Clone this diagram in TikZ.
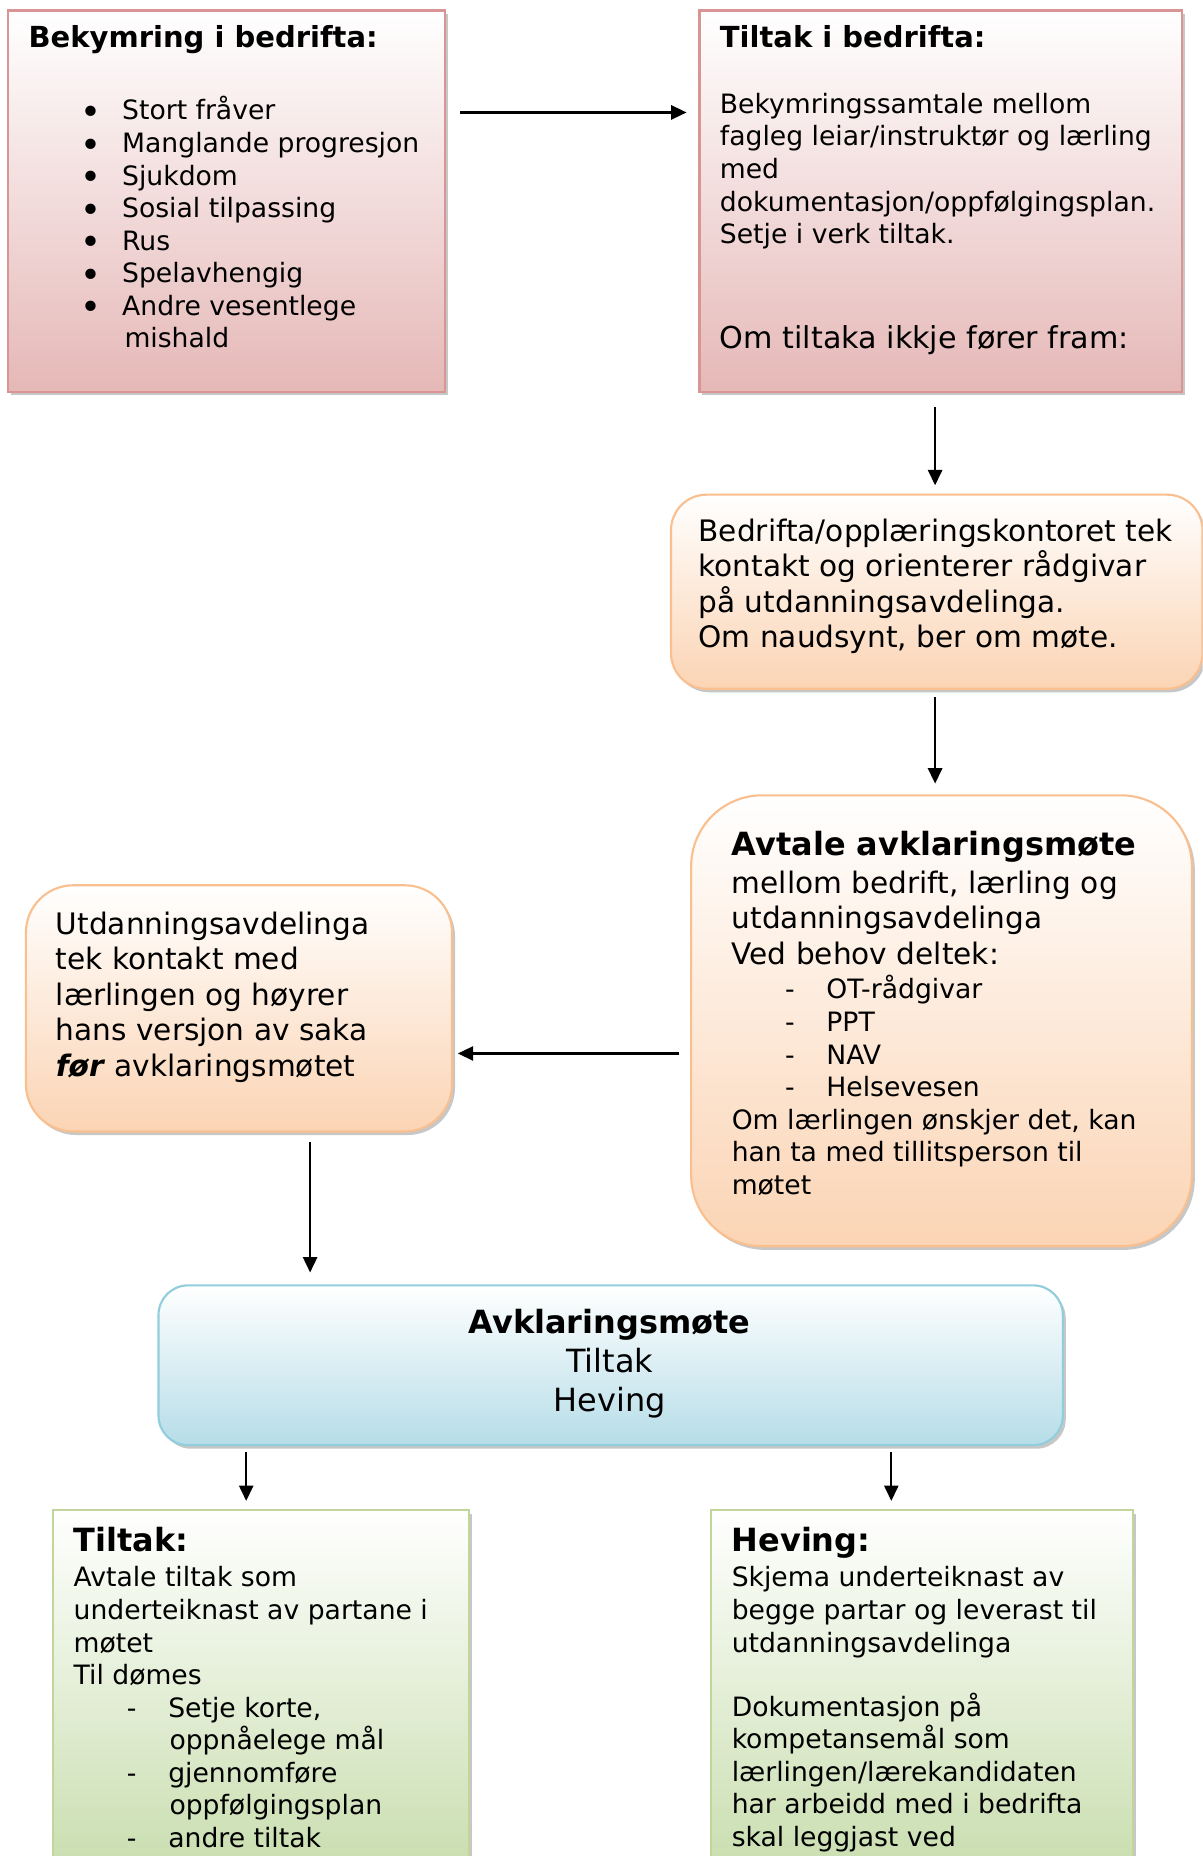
\documentclass[tikz,border=0pt]{standalone}
\usepackage{fontspec}
\setmainfont{DejaVu Sans}
\usetikzlibrary{arrows.meta,shadows}

\definecolor{pinkline}{HTML}{D99594}
\definecolor{pinkfill}{HTML}{E5B8B7}
\definecolor{orangeline}{HTML}{FABF8F}
\definecolor{orangefill}{HTML}{FBD4B4}
\definecolor{blueline}{HTML}{92CDDC}
\definecolor{bluefill}{HTML}{B6DDE8}
\definecolor{greenline}{HTML}{C2D69B}
\definecolor{greenfill}{HTML}{C4DBA8}

\newcommand{\smalltxt}{\fontsize{22.5}{27.5}\selectfont}
\newcommand{\midtxt}{\fontsize{25}{30}\selectfont}
\newcommand{\bigtxt}{\fontsize{27}{33}\selectfont}
\newcommand{\dotitem}{\hspace*{44pt}\makebox[35pt][l]{\raisebox{-4pt}{\fontsize{30}{27.5}\selectfont •}}}

\begin{document}
\begin{tikzpicture}[x=1pt,y=-1pt,
	box/.style={draw, line width=1.8pt, anchor=north west, inner sep=0pt,
		drop shadow={shadow xshift=2.5pt,shadow yshift=-3pt,fill=black,opacity=0.22}},
	pinkbox/.style={box, draw=pinkline, top color=white, bottom color=pinkfill},
	orangebox/.style={box, draw=orangeline, top color=white, bottom color=orangefill},
	bluebox/.style={box, draw=blueline, top color=white, bottom color=bluefill},
	greenbox/.style={box, draw=greenline, top color=white, bottom color=greenfill},
	txt/.style={anchor=north west, align=left, inner sep=0pt, font=\smalltxt},
	arr/.style={-{Triangle[length=13pt,width=12pt]}, line width=1.8pt}]
	\useasboundingbox (0,0) rectangle (1016,1568);
	\clip (0,0) rectangle (1016,1568);

	% boxes
	\node[pinkbox, minimum width=369pt, minimum height=322pt] (b1) at (6,8) {};
	\node[pinkbox, minimum width=408pt, minimum height=322pt] (b2) at (590,8) {};
	\node[orangebox, rounded corners=30pt, minimum width=449pt, minimum height=164pt] (b3) at (566,417) {};
	\node[orangebox, rounded corners=60pt, minimum width=423pt, minimum height=381pt] (b4) at (583,671) {};
	\node[orangebox, rounded corners=40pt, minimum width=360pt, minimum height=208pt] (b5) at (21,747) {};
	\node[bluebox, rounded corners=25pt, minimum width=764pt, minimum height=135pt] (b6) at (133,1085) {};
	\node[greenbox, minimum width=351pt, minimum height=330pt] (b7) at (44,1275) {};
	\node[greenbox, minimum width=356pt, minimum height=330pt] (b8) at (600,1275) {};

	% texts
	\node[txt] (t1) at (24,21) {{\fontsize{24.5}{27.5}\selectfont\bfseries Bekymring i bedrifta:}\\[34pt]
		\dotitem Stort fråver\\
		\dotitem Manglande progresjon\\
		\dotitem Sjukdom\\
		\dotitem Sosial tilpassing\\
		\dotitem Rus\\
		\dotitem Spelavhengig\\
		\dotitem Andre vesentlege\\
		\hspace*{81pt}mishald};
	\node[txt] (t2) at (608,21) {{\fontsize{24.5}{27.5}\selectfont\bfseries Tiltak i bedrifta:}\\[28.5pt]
		Bekymringssamtale mellom\\
		fagleg leiar/instruktør og lærling\\
		med\\
		dokumentasjon/oppfølgingsplan.\\
		Setje i verk tiltak.\\[61.5pt]
		{\fontsize{25.5}{30}\selectfont Om tiltaka ikkje fører fram:}};
	\node[txt, font=\midtxt] (t3) at (590,438) {Bedrifta/opplæringskontoret tek\\
		kontakt og orienterer rådgivar\\
		på utdanningsavdelinga.\\
		Om naudsynt, ber om møte.};
	\node[txt, font=\midtxt] (t4) at (618,702) {{\bigtxt\bfseries Avtale avklaringsmøte}\\[2pt]
		mellom bedrift, lærling og\\
		utdanningsavdelinga\\
		Ved behov deltek:};
	\node[txt] (t4b) at (618,824) {\hspace*{45pt}\makebox[35pt][l]{-}OT-rådgivar\\
		\hspace*{45pt}\makebox[35pt][l]{-}PPT\\
		\hspace*{45pt}\makebox[35pt][l]{-}NAV\\
		\hspace*{45pt}\makebox[35pt][l]{-}Helsevesen\\
		Om lærlingen ønskjer det, kan\\
		han ta med tillitsperson til\\
		møtet};
	\node[txt, font=\midtxt] (t5) at (47,770) {Utdanningsavdelinga\\
		tek kontakt med\\
		lærlingen og høyrer\\
		hans versjon av saka\\
		\textbf{\textit{før}} avklaringsmøtet};
	\node[anchor=north, align=center, inner sep=0pt, font=\bigtxt] (t6) at (515,1106) {{\bfseries Avklaringsmøte}\\
		Tiltak\\
		Heving};
	\node[txt] (t7) at (62,1290) {{\bigtxt\bfseries Tiltak:}\\[2.5pt]
		Avtale tiltak som\\
		underteiknast av partane i\\
		møtet\\
		Til dømes\\
		\hspace*{45pt}\makebox[35pt][l]{-}Setje korte,\\
		\hspace*{81pt}oppnåelege mål\\
		\hspace*{45pt}\makebox[35pt][l]{-}gjennomføre\\
		\hspace*{81pt}oppfølgingsplan\\
		\hspace*{45pt}\makebox[35pt][l]{-}andre tiltak};
	\node[txt] (t8) at (618,1290) {{\bigtxt\bfseries Heving:}\\[2.5pt]
		Skjema underteiknast av\\
		begge partar og leverast til\\
		utdanningsavdelinga\\[26.5pt]
		Dokumentasjon på\\
		kompetansemål som\\
		lærlingen/lærekandidaten\\
		har arbeidd med i bedrifta\\
		skal leggjast ved};

	% arrows
	\draw[arr, shorten <=12pt, shorten >=10pt] (b1.east |- 0,95) -- (b2.west |- 0,95);
	\draw[arr, shorten <=12pt, shorten >=7pt] (b2.south -| 790,0) -- (b3.north -| 790,0);
	\draw[arr, shorten <=6pt, shorten >=9pt] (b3.south -| 790,0) -- (b4.north -| 790,0);
	\draw[arr, shorten <=9pt, shorten >=4pt] (b4.west |- 0,890) -- (b5.east |- 0,890);
	\draw[arr, shorten <=8pt, shorten >=10pt] (b5.south -| 262,0) -- (b6.north -| 262,0);
	\draw[arr, shorten <=5pt, shorten >=7pt] (b6.south -| 208,0) -- (b7.north -| 208,0);
	\draw[arr, shorten <=5pt, shorten >=7pt] (b6.south -| 753,0) -- (b8.north -| 753,0);

\end{tikzpicture}
\end{document}
